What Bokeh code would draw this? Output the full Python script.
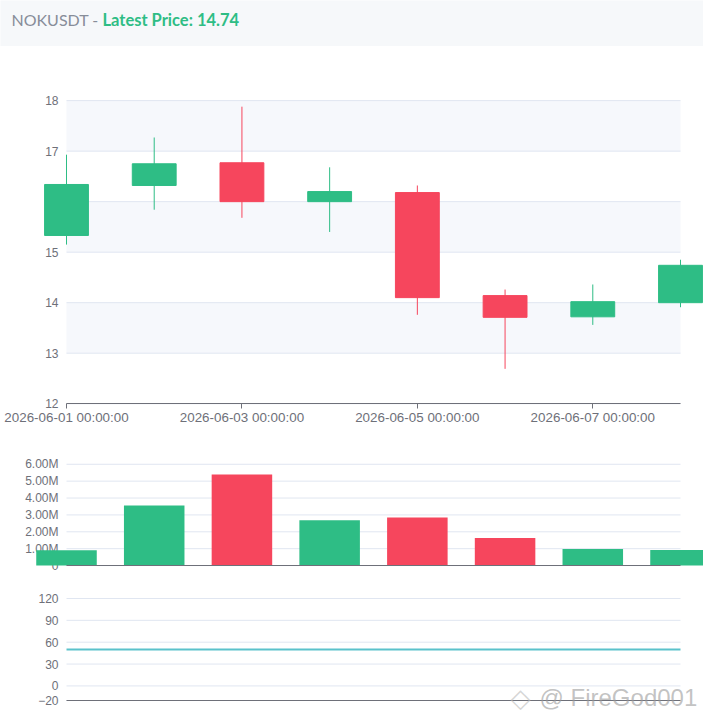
from bokeh.embed import file_html
from bokeh.layouts import column
from bokeh.models import ColumnDataSource, FixedTicker, Label, Range1d
from bokeh.plotting import figure
from bokeh.resources import INLINE

title_name = "NOKUSDT - "
title_price = "Latest Price: 14.74"
watermark = "@ FireGod001"

dates = ["2026-06-01 00:00:00", "2026-06-02 00:00:00", "2026-06-03 00:00:00",
         "2026-06-04 00:00:00", "2026-06-05 00:00:00", "2026-06-06 00:00:00",
         "2026-06-07 00:00:00", "2026-06-08 00:00:00"]
opens = [15.33, 16.32, 16.77, 16.0, 16.18, 14.14, 13.72, 14.0]
closes = [16.34, 16.75, 16.0, 16.2, 14.1, 13.71, 14.02, 14.74]
highs = [16.93, 17.27, 17.88, 16.68, 16.32, 14.26, 14.36, 14.85]
lows = [15.15, 15.84, 15.68, 15.4, 13.76, 12.69, 13.56, 13.91]
volumes = [900000, 3560000, 5400000, 2680000, 2840000, 1630000, 980000, 920000]
rsi = [50, 50, 50, 50, 50, 50, 50, 50]

price_ticks = [12, 13, 14, 15, 16, 17, 18]
volume_ticks = [0, 1000000, 2000000, 3000000, 4000000, 5000000, 6000000]
volume_labels = {0: "0", 1000000: "1.00M", 2000000: "2.00M", 3000000: "3.00M",
                 4000000: "4.00M", 5000000: "5.00M", 6000000: "6.00M"}
rsi_ticks = [-20, 0, 30, 60, 90, 120]
date_ticks = [0, 2, 4, 6]
band_bottoms = [17, 15, 13]

GREEN = "#2ebd85"
RED = "#f6465d"
GRID = "#e0e6f1"
AXIS = "#6e7079"
TEAL = "#5bc2cb"
FONT = "Liberation Sans"

# the frame covers the whole page width so bars can hang over the ends of the axis,
# and runs past the top and bottom ticks so the axis labels are not clipped
LEFT = 66
RIGHT = 680
WIDTH = 703
unit = (RIGHT - LEFT) / (len(dates) - 1)
x_start = -LEFT / unit
x_end = (WIDTH - LEFT) / unit

idx = list(range(len(dates)))
colors = [GREEN if c >= o else RED for o, c in zip(opens, closes)]
source = ColumnDataSource(data=dict(
    idx=idx, open=opens, close=closes, high=highs, low=lows,
    volume=volumes, rsi=rsi, color=colors,
))


def make_panel(height, top, bottom, y_range, ticks, axis_at):
    p = figure(width=WIDTH, height=height, x_range=Range1d(x_start, x_end), y_range=y_range,
               output_backend="svg", toolbar_location=None,
               min_border_left=0, min_border_right=0,
               min_border_top=top, min_border_bottom=bottom)
    p.outline_line_color = None
    p.grid.visible = False
    p.segment(0, ticks, idx[-1], ticks, line_color=GRID, line_width=1)
    y_axis = p.yaxis[0]
    y_axis.fixed_location = 0
    y_axis.ticker = FixedTicker(ticks=ticks)
    y_axis.axis_line_color = None
    y_axis.major_tick_line_color = None
    y_axis.minor_tick_line_color = None
    y_axis.major_tick_out = 0
    y_axis.major_tick_in = 0
    y_axis.major_label_text_color = AXIS
    y_axis.major_label_text_font = FONT
    y_axis.major_label_text_font_size = "12px"
    y_axis.major_label_standoff = 8
    y_axis.level = "underlay"
    x_axis = p.xaxis[0]
    x_axis.fixed_location = axis_at
    x_axis.ticker = FixedTicker(ticks=[])
    x_axis.bounds = (0, idx[-1])
    x_axis.axis_line_color = AXIS
    x_axis.major_tick_line_color = None
    x_axis.minor_tick_line_color = None
    return p


# header strip
header = figure(width=WIDTH, height=46, x_range=Range1d(0, WIDTH), y_range=Range1d(0, 46),
                output_backend="svg", toolbar_location=None,
                min_border=0, background_fill_color="#f6f8fa",
                border_fill_color="#f6f8fa")
header.axis.visible = False
header.grid.visible = False
header.outline_line_color = None
header.hspan(y=[0.5], line_color="#e8ebf0", line_width=1)
header.add_layout(Label(x=11, y=27, x_units="screen", y_units="screen", text=title_name,
                        text_font="Lato", text_font_size="16px", text_color="#878d99",
                        text_baseline="middle"))
header.add_layout(Label(x=102, y=27, x_units="screen", y_units="screen", text=title_price,
                        text_font="Lato", text_font_size="16.5px", text_font_style="bold",
                        text_color=GREEN, text_baseline="middle"))

# candles
kline = make_panel(394, 42, 8, Range1d(11.43, 18.24), price_ticks, 12)
kline.hbar([b + 0.5 for b in band_bottoms], 1, 0, idx[-1], fill_color="#f6f8fc", line_color=None, level="underlay")
kline.segment("idx", "low", "idx", "high", color="color", line_width=1, source=source)
kline.vbar("idx", 0.5, "open", "close", fill_color="color", line_color="color", source=source)
kline.xaxis.ticker = FixedTicker(ticks=date_ticks)
kline.xaxis.major_label_overrides = {i: dates[i] for i in date_ticks}
kline.xaxis.major_tick_line_color = AXIS
kline.xaxis.major_tick_out = 5
kline.xaxis.major_tick_in = 0
kline.xaxis.major_label_text_color = AXIS
kline.xaxis.major_label_text_font = FONT
kline.xaxis.major_label_text_font_size = "13.4px"
kline.xaxis.major_label_standoff = 1

# volume
vol = make_panel(145, 16, 12, Range1d(-470000, 6460000), volume_ticks, 0)
vol.vbar("idx", 0.69, "volume", 0, fill_color="color", line_color=None, source=source)
vol.yaxis[0].major_label_overrides = volume_labels

# rsi, its frame runs on to the page bottom for the watermark
osc = make_panel(137, 3, 0, Range1d(-50.2, 133.7), rsi_ticks, -20)
osc.line("idx", "rsi", line_color=TEAL, line_width=2, source=source)
osc.add_layout(Label(x=510, y=25, x_units="screen", y_units="screen", text="\u25c7",
                     text_font="DejaVu Sans", text_font_size="26px", text_color="#bbbbbb",
                     text_alpha=0.6, text_baseline="middle"))
osc.add_layout(Label(x=539, y=25, x_units="screen", y_units="screen", text=watermark,
                     text_font=FONT, text_font_size="24px", text_color="#9a9a9a",
                     text_alpha=0.6, text_baseline="middle"))

page = column(header, kline, vol, osc, spacing=0, margin=0)

open("out.html", "w").write(file_html(page, INLINE))
